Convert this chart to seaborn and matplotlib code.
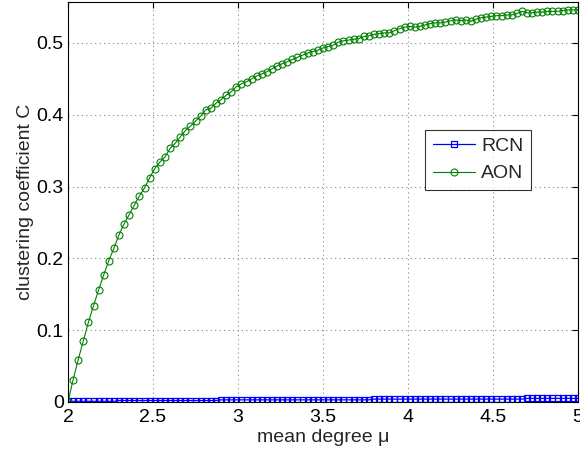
import os

os.environ.setdefault("MPLCONFIGDIR", "/tmp")

import matplotlib
matplotlib.use("Agg")
import matplotlib.pyplot as plt
import numpy as np
import pandas as pd
import seaborn as sns

# mean degree grid (2.00 .. 5.00, step 0.03)
mean_degree = np.linspace(2.0, 5.0, 101)

# clustering coefficient
aon_values = [
    0.000, 0.031, 0.059, 0.085, 0.111, 0.134, 0.156, 0.177, 0.197, 0.214,
    0.233, 0.248, 0.261, 0.274, 0.287, 0.298, 0.312, 0.325, 0.334, 0.341,
    0.353, 0.360, 0.369, 0.378, 0.384, 0.391, 0.398, 0.407, 0.409, 0.416,
    0.421, 0.427, 0.432, 0.439, 0.443, 0.446, 0.450, 0.454, 0.457, 0.460,
    0.464, 0.468, 0.471, 0.474, 0.477, 0.480, 0.483, 0.486, 0.488, 0.490,
    0.493, 0.495, 0.497, 0.501, 0.503, 0.504, 0.505, 0.506, 0.509, 0.510,
    0.512, 0.513, 0.514, 0.514, 0.517, 0.520, 0.522, 0.523, 0.522, 0.523,
    0.525, 0.527, 0.528, 0.528, 0.529, 0.531, 0.532, 0.531, 0.532, 0.530,
    0.533, 0.535, 0.536, 0.537, 0.538, 0.538, 0.539, 0.539, 0.541, 0.544,
    0.542, 0.542, 0.543, 0.543, 0.544, 0.544, 0.544, 0.545, 0.546, 0.546,
    0.546,
]
rcn_values = [
    0.001, 0.001, 0.001, 0.001, 0.001, 0.001, 0.001, 0.001, 0.001, 0.001,
    0.002, 0.002, 0.002, 0.002, 0.002, 0.002, 0.002, 0.002, 0.002, 0.002,
    0.002, 0.002, 0.002, 0.002, 0.002, 0.002, 0.002, 0.002, 0.002, 0.002,
    0.003, 0.003, 0.003, 0.003, 0.003, 0.003, 0.003, 0.003, 0.003, 0.003,
    0.003, 0.003, 0.003, 0.003, 0.003, 0.003, 0.003, 0.003, 0.003, 0.003,
    0.003, 0.003, 0.003, 0.003, 0.003, 0.003, 0.003, 0.003, 0.003, 0.003,
    0.004, 0.004, 0.004, 0.004, 0.004, 0.004, 0.004, 0.004, 0.004, 0.004,
    0.004, 0.004, 0.004, 0.004, 0.004, 0.004, 0.004, 0.004, 0.004, 0.004,
    0.004, 0.004, 0.004, 0.004, 0.004, 0.004, 0.004, 0.004, 0.004, 0.004,
    0.005, 0.005, 0.005, 0.005, 0.005, 0.005, 0.005, 0.005, 0.005, 0.005,
    0.005,
]

x_ticks = [2, 2.5, 3, 3.5, 4, 4.5, 5]
x_tick_labels = ["2", "2.5", "3", "3.5", "4", "4.5", "5"]
y_ticks = [0, 0.1, 0.2, 0.3, 0.4, 0.5]
y_tick_labels = ["0", "0.1", "0.2", "0.3", "0.4", "0.5"]

sns.set_style("white")
plt.rcParams["font.family"] = ["Liberation Sans", "DejaVu Sans"]
plt.rcParams["font.size"] = 14

df = pd.DataFrame({"mu": mean_degree, "RCN": rcn_values, "AON": aon_values})

fig = plt.figure(figsize=(5.8, 4.54), dpi=100)
ax = fig.add_axes([68 / 580, 1 - 402 / 454, 510 / 580, 400 / 454])

sns.lineplot(data=df, x="mu", y="RCN", ax=ax, color="#0000FF", marker="s",
             markersize=5, markerfacecolor="none", markeredgecolor="#0000FF",
             markeredgewidth=0.9, linewidth=0.9, label="RCN")
sns.lineplot(data=df, x="mu", y="AON", ax=ax, color="#008000", marker="o",
             markersize=5, markerfacecolor="none", markeredgecolor="#008000",
             markeredgewidth=0.8, linewidth=0.8, label="AON")

ax.set_xlim(2, 5)
ax.set_ylim(0, 0.557)
ax.set_xticks(x_ticks)
ax.set_xticklabels(x_tick_labels)
ax.set_yticks(y_ticks)
ax.set_yticklabels(y_tick_labels)
ax.tick_params(direction="in", length=4, width=0.8, top=True, right=True,
               labelsize=14, colors="black")
ax.tick_params(axis="x", pad=5)
ax.tick_params(axis="y", pad=3)
ax.grid(True, linestyle=(0, (1, 3)), color="#888888", linewidth=0.8)
for spine in ax.spines.values():
    spine.set_color("black")
    spine.set_linewidth(0.8)

ax.set_xlabel("mean degree μ", fontsize=14, labelpad=2)
ax.set_ylabel("clustering coefficient C", fontsize=14, labelpad=2)

leg = ax.legend(loc="center", bbox_to_anchor=(0.804, 0.605), fontsize=14,
                frameon=True, fancybox=False, handlelength=2.2,
                borderpad=0.4, labelspacing=0.5, handletextpad=0.3)
leg.get_frame().set_edgecolor("black")
leg.get_frame().set_linewidth(0.8)

fig.savefig("out.png", dpi=100)
plt.close(fig)
